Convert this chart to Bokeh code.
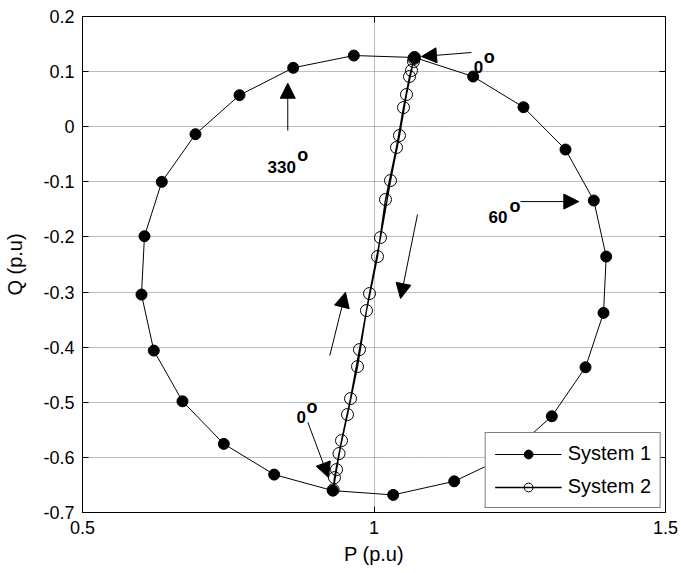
from bokeh.plotting import figure
from bokeh.models import (LinearAxis, FixedTicker, Arrow, NormalHead, Label,
                          Legend, LegendItem, Range1d)
from bokeh.embed import file_html
from bokeh.resources import INLINE

# System 1: P-Q locus sampled every 15 degrees (0 .. 345 deg)
sys1_p = [1.0695, 1.1701, 1.2564, 1.3285, 1.3770, 1.3983, 1.3937, 1.3628,
          1.3050, 1.2273, 1.1376, 1.0329, 0.9293, 0.8288, 0.7424, 0.6715,
          0.6223, 0.6012, 0.6063, 0.6360, 0.6938, 0.7693, 0.8614, 0.9654]
sys1_q = [0.1256, 0.0911, 0.0354, -0.0414, -0.1339, -0.2356, -0.3378, -0.4365,
          -0.5254, -0.5985, -0.6434, -0.6681, -0.6603, -0.6312, -0.5755, -0.4982,
          -0.4062, -0.3045, -0.1987, -0.1000, -0.0136, 0.0572, 0.1069, 0.1292]

# System 2: P-Q locus, same angular steps (down the line and back up)
sys2_p = [1.0695, 1.0686, 1.0643, 1.0557, 1.0437, 1.0283, 1.0111, 0.9923,
          0.9751, 0.9597, 0.9443, 0.9357, 0.9300, 0.9322, 0.9400, 0.9545,
          0.9717, 0.9871, 1.0060, 1.0197, 1.0386, 1.0506, 1.0609, 1.0678]
sys2_q = [0.1256, 0.1238, 0.1020, 0.0584, -0.0160, -0.0976, -0.2011, -0.3027,
          -0.4044, -0.4933, -0.5695, -0.6221, -0.6590, -0.6367, -0.5931, -0.5223,
          -0.4352, -0.3336, -0.2356, -0.1321, -0.0377, 0.0348, 0.0911, 0.1183]

x_ticks = [0.5, 1.0, 1.5]
x_tick_labels = ["0.5", "1", "1.5"]
y_ticks = [-0.7, -0.6, -0.5, -0.4, -0.3, -0.2, -0.1, 0.0, 0.1, 0.2]
y_tick_labels = ["-0.7", "-0.6", "-0.5", "-0.4", "-0.3", "-0.2", "-0.1", "0", "0.1", "0.2"]

FONT = "Liberation Sans"

p = figure(width=681, height=573, x_range=Range1d(0.5, 1.5), y_range=Range1d(-0.7, 0.2),
           output_backend="svg", toolbar_location=None,
           min_border_left=82, min_border_right=16, min_border_top=16, min_border_bottom=61,
           x_axis_label="P (p.u)", y_axis_label="Q (p.u)")
p.outline_line_color = "black"
p.outline_line_width = 1
p.background_fill_color = "white"
p.border_fill_color = "white"


def style_axis(ax, ticks, labels, show_labels=True):
    ax.ticker = FixedTicker(ticks=ticks)
    ax.major_tick_in = 6
    ax.major_tick_out = 0
    ax.minor_tick_in = 0
    ax.minor_tick_out = 0
    ax.axis_line_color = "black"
    ax.major_tick_line_color = "black"
    if show_labels:
        ax.major_label_overrides = {t: s for t, s in zip(ticks, labels)}
        ax.major_label_text_font = FONT
        ax.major_label_text_font_size = "18px"
        ax.major_label_text_color = "black"
        ax.major_label_standoff = 8
        ax.axis_label_text_font = FONT
        ax.axis_label_text_font_size = "20px"
        ax.axis_label_text_font_style = "normal"
        ax.axis_label_text_color = "black"
    else:
        ax.major_label_overrides = {t: "" for t in ticks}
        ax.major_label_text_font_size = "0px"
        ax.major_label_standoff = 0


style_axis(p.xaxis[0], x_ticks, x_tick_labels)
style_axis(p.yaxis[0], y_ticks, y_tick_labels)
p.xaxis[0].axis_label_standoff = 6
p.yaxis[0].axis_label_standoff = 14

top_axis = LinearAxis()
style_axis(top_axis, x_ticks, x_tick_labels, show_labels=False)
p.add_layout(top_axis, "above")
right_axis = LinearAxis()
style_axis(right_axis, y_ticks, y_tick_labels, show_labels=False)
p.add_layout(right_axis, "right")

for g in (p.xgrid, p.ygrid):
    g.grid_line_color = "#7a7a7a"
    g.grid_line_dash = "1 1"
    g.grid_line_width = 1

# closed loops
l1 = p.line(sys1_p + sys1_p[:1], sys1_q + sys1_q[:1], line_color="black", line_width=1)
s1 = p.scatter(sys1_p, sys1_q, marker="circle", size=11,
               fill_color="black", line_color="black")
l2 = p.line(sys2_p + sys2_p[:1], sys2_q + sys2_q[:1], line_color="black", line_width=1.4)
s2 = p.scatter(sys2_p, sys2_q, marker="circle", size=12,
               fill_color=None, line_color="black", line_width=1)

legend = Legend(items=[LegendItem(label="System 1", renderers=[l1, s1]),
                       LegendItem(label="System 2", renderers=[l2, s2])],
                location="bottom_right", margin=4, padding=9, spacing=10,
                glyph_width=67, glyph_height=22, label_height=22, label_standoff=6,
                label_text_font=FONT, label_text_font_size="20px",
                label_text_color="black",
                border_line_color="black", border_line_width=1,
                background_fill_color="white", background_fill_alpha=1)
p.add_layout(legend)

# angle markers: arrows (x0, y0, x1, y1)
arrows = [
    (1.1672, 0.1347, 1.0815, 0.1274),
    (0.8521, -0.0069, 0.8521, 0.0789),
    (1.2513, -0.1358, 1.3513, -0.1358),
    (0.8865, -0.5363, 0.9220, -0.6367),
    (1.0746, -0.1593, 1.0455, -0.3118),
    (0.9242, -0.4152, 0.9511, -0.3004),
]
for x0, y0, x1, y1 in arrows:
    p.add_layout(Arrow(end=NormalHead(size=15, fill_color="black", line_color="black"),
                       x_start=x0, y_start=y0, x_end=x1, y_end=y1,
                       line_color="black", line_width=1))

# angle texts: number with a raised "o" as degree mark
angle_texts = [
    ("0", 1.1712, 0.1080, 1.1883, 0.1261),
    ("330", 0.8173, -0.0722, 0.8683, -0.0510),
    ("60", 1.1964, -0.1642, 1.2324, -0.1430),
    ("0", 0.8671, -0.5272, 0.8842, -0.5091),
]
for txt, tx, ty, ox, oy in angle_texts:
    p.add_layout(Label(x=tx, y=ty, text=txt, text_font=FONT, text_font_style="bold",
                       text_font_size="17px", text_color="black",
                       text_align="left", text_baseline="alphabetic"))
    p.add_layout(Label(x=ox, y=oy, text="o", text_font=FONT, text_font_style="bold",
                       text_font_size="18px", text_color="black",
                       text_align="left", text_baseline="alphabetic"))

open("out.html", "w").write(file_html(p, INLINE))
